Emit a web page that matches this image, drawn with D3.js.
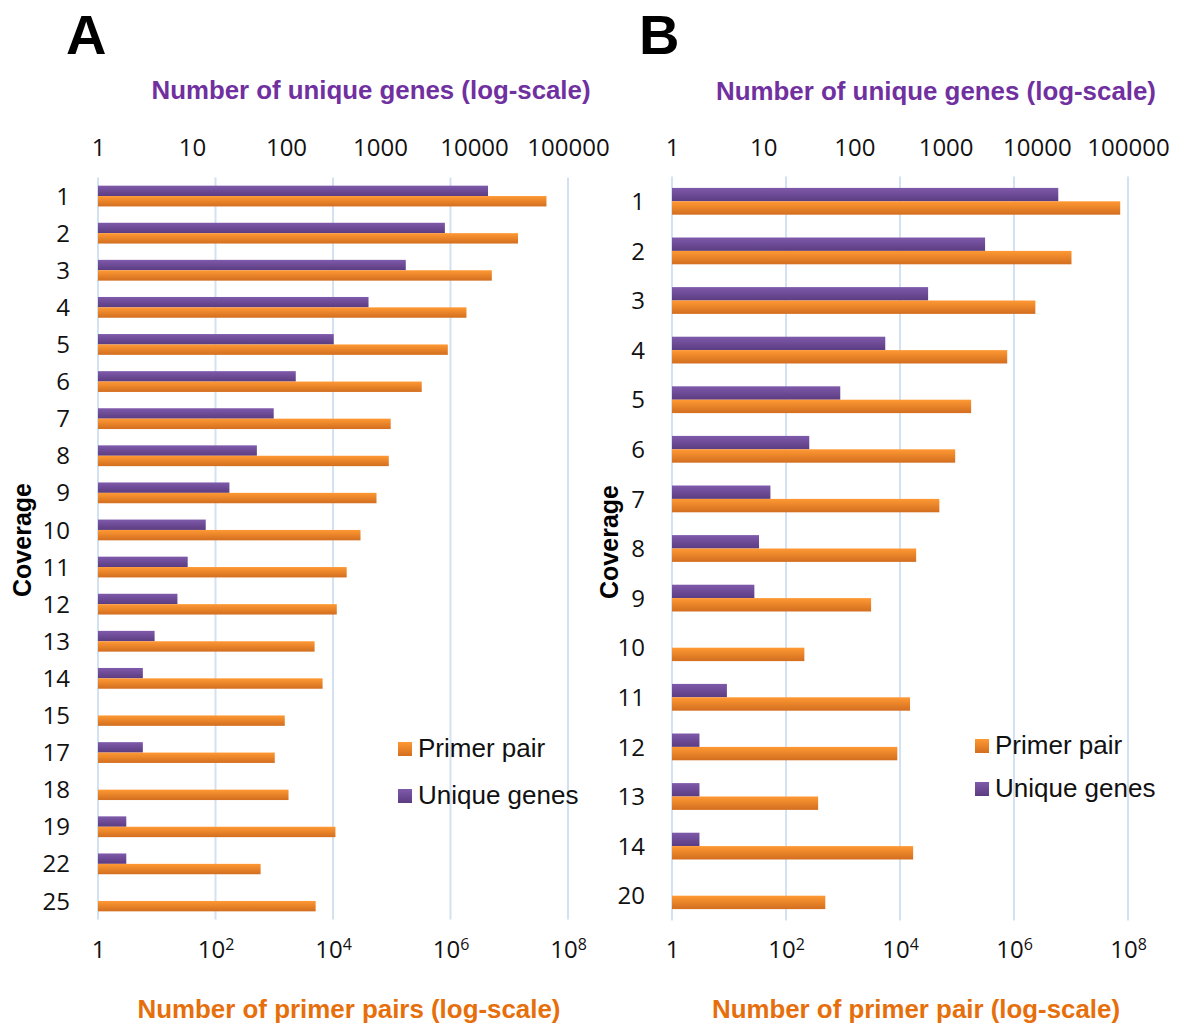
<!DOCTYPE html>
<html>
<head>
<meta charset="utf-8">
<script src="https://cdn.jsdelivr.net/npm/d3@7"></script>
<style>
  html, body { margin: 0; padding: 0; background: #ffffff; }
  svg { display: block; }
</style>
</head>
<body>
<svg id="chart" width="1178" height="1026"></svg>
<script>
// Panel A: coverage classes with primer-pair counts and unique-gene counts
const coverageA = ["1","2","3","4","5","6","7","8","9","10","11","12","13","14","15","17","18","19","22","25"];
const uniqueGenesA = [14100, 4900, 1880, 755, 322, 127, 74, 49, 25, 14, 9, 7, 4, 3, 1, 3, 1, 2, 2, 1];
const primerPairsA = [43000000, 14100000, 5050000, 1870000, 900000, 324000, 96000, 89000, 55000, 29400, 17100, 11600, 4860, 6650, 1510, 1020, 1750, 11000, 586, 5070];

// Panel B
const coverageB = ["1","2","3","4","5","6","7","8","9","10","11","12","13","14","20"];
const uniqueGenesB = [17200, 2710, 643, 218, 70, 32, 12, 9, 8, 1, 4, 2, 2, 2, 1];
const primerPairsB = [73000000, 10200000, 2370000, 760000, 177000, 93000, 49000, 19200, 3110, 210, 15000, 8970, 366, 17000, 489];

// Axis ticks
const geneTicks = [1, 10, 100, 1000, 10000, 100000];
const primerTicks = [1, 1e2, 1e4, 1e6, 1e8];
const legendLabels = ["Primer pair", "Unique genes"];

const svg = d3.select("#chart");

// Vertical bar gradients (Office-style bevelled fills)
const defs = svg.append("defs");
function gradient(id, top, bottom) {
  const g = defs.append("linearGradient").attr("id", id)
    .attr("x1", 0).attr("y1", 0).attr("x2", 0).attr("y2", 1);
  g.append("stop").attr("offset", "0%").attr("stop-color", top);
  g.append("stop").attr("offset", "100%").attr("stop-color", bottom);
}
gradient("gradGenes", "#7F5AAB", "#5B3C80");
gradient("gradPrimers", "#FF9934", "#D26E1F");

const TICK_FONT = "'Open Sans', 'Noto Sans', sans-serif";
const TITLE_FONT = "'Liberation Sans', Arial, sans-serif";
const PURPLE = "#7030A0";
const ORANGE = "#E66F0C";

function drawPanel(p) {
  const xGenes = d3.scaleLog().domain([1, 1e5]).range([p.x0, p.x1]);
  const xPrimers = d3.scaleLog().domain([1, 1e8]).range([p.x0, p.x1]);

  const rows = d3.scaleBand().domain(p.coverage).range([p.y0, p.y1])
    .paddingInner(p.gap).paddingOuter(p.gap / 2);
  const sub = d3.scaleBand().domain(["genes", "primers"]).range([0, rows.bandwidth()]);

  const g = svg.append("g");

  // vertical gridlines at the primer-pair decades
  g.append("g").selectAll("line").data(primerTicks).join("line")
    .attr("x1", d => xPrimers(d)).attr("x2", d => xPrimers(d))
    .attr("y1", p.y0).attr("y2", p.y1)
    .attr("stroke", "#D3E2F2").attr("stroke-width", 2);

  // bars
  const rowsData = p.coverage.map((c, i) => ({ c, genes: p.genes[i], primers: p.primers[i] }));
  const rowG = g.append("g").selectAll("g").data(rowsData).join("g")
    .attr("transform", d => `translate(0,${rows(d.c)})`);
  rowG.append("rect")
    .attr("x", xGenes(1)).attr("y", sub("genes"))
    .attr("width", d => xGenes(d.genes) - xGenes(1))
    .attr("height", sub.bandwidth())
    .attr("fill", "url(#gradGenes)");
  rowG.append("rect")
    .attr("x", xPrimers(1)).attr("y", sub("primers"))
    .attr("width", d => xPrimers(d.primers) - xPrimers(1))
    .attr("height", sub.bandwidth())
    .attr("fill", "url(#gradPrimers)");

  // top axis: unique genes
  const topAxis = g.append("g").attr("transform", `translate(0,${p.topTickY})`)
    .call(d3.axisTop(xGenes).tickValues(geneTicks).tickFormat(d3.format("d")).tickSize(0).tickPadding(0));
  topAxis.select(".domain").remove();
  topAxis.selectAll("text")
    .attr("y", 0).attr("dy", null)
    .style("font-family", TICK_FONT).style("font-size", "24px").attr("fill", "#111");

  // bottom axis: primer pairs, powers of ten with superscripts
  const bottomAxis = g.append("g").attr("transform", `translate(0,${p.bottomTickY})`)
    .call(d3.axisBottom(xPrimers).tickValues(primerTicks).tickSize(0).tickPadding(0));
  bottomAxis.select(".domain").remove();
  bottomAxis.selectAll("text")
    .attr("y", 0).attr("dy", null)
    .style("font-family", TICK_FONT).style("font-size", "24px").attr("fill", "#111")
    .each(function (d) {
      const t = d3.select(this).text("");
      if (d === 1) { t.text("1"); return; }
      t.append("tspan").text("10");
      t.append("tspan").text(Math.round(Math.log10(d)))
        .attr("dy", -8).style("font-size", "16px");
    });

  // category axis
  const leftAxis = g.append("g").attr("transform", `translate(${p.labelX},0)`)
    .call(d3.axisLeft(rows).tickSize(0).tickPadding(0));
  leftAxis.select(".domain").remove();
  leftAxis.selectAll("text")
    .attr("x", 0).attr("dy", "0.36em")
    .style("font-family", TICK_FONT).style("font-size", "24px").attr("fill", "#111");

  // axis titles
  g.append("text").attr("x", p.topTitleX).attr("y", p.topTitleY)
    .attr("text-anchor", "middle").attr("fill", PURPLE)
    .style("font-family", TITLE_FONT).style("font-weight", "bold").style("font-size", "25px")
    .attr("textLength", p.topTitleLen).attr("lengthAdjust", "spacingAndGlyphs")
    .text("Number of unique genes (log-scale)");
  g.append("text").attr("x", p.bottomTitleX).attr("y", p.bottomTitleY)
    .attr("text-anchor", "middle").attr("fill", ORANGE)
    .style("font-family", TITLE_FONT).style("font-weight", "bold").style("font-size", "25px")
    .attr("textLength", p.bottomTitleLen).attr("lengthAdjust", "spacingAndGlyphs")
    .text(p.bottomTitle);
  g.append("text")
    .attr("transform", `translate(${p.coverageX},${p.coverageY}) rotate(-90)`)
    .attr("text-anchor", "middle").attr("fill", "#000")
    .style("font-family", TITLE_FONT).style("font-weight", "bold").style("font-size", "25px")
    .text("Coverage");

  // panel letter
  g.append("text").attr("x", p.letterX).attr("y", 54)
    .attr("fill", "#000")
    .style("font-family", TITLE_FONT).style("font-weight", "bold").style("font-size", "56px")
    .text(p.letter);

  // legend
  const fills = ["url(#gradPrimers)", "url(#gradGenes)"];
  const leg = g.append("g").selectAll("g").data(legendLabels).join("g")
    .attr("transform", (d, i) => `translate(${p.legendX},${p.legendY + i * p.legendStep})`);
  leg.append("rect").attr("x", 0).attr("y", -14).attr("width", 14).attr("height", 14)
    .attr("fill", (d, i) => fills[i]);
  leg.append("text").attr("x", 20).attr("y", 1)
    .style("font-family", TITLE_FONT).style("font-size", "26px").attr("fill", "#111")
    .text(d => d);
}

drawPanel({
  letter: "A", letterX: 66,
  coverage: coverageA, genes: uniqueGenesA, primers: primerPairsA,
  x0: 98, x1: 568, y0: 177.5, y1: 919.5, gap: 0.44,
  topTickY: 156, bottomTickY: 958, labelX: 70,
  topTitleX: 371, topTitleY: 99, topTitleLen: 439,
  bottomTitle: "Number of primer pairs (log-scale)",
  bottomTitleX: 349, bottomTitleY: 1018, bottomTitleLen: 423,
  coverageX: 31, coverageY: 540,
  legendX: 398, legendY: 756, legendStep: 47
});

drawPanel({
  letter: "B", letterX: 639,
  coverage: coverageB, genes: uniqueGenesB, primers: primerPairsB,
  x0: 672, x1: 1128, y0: 176.5, y1: 920.5, gap: 0.46,
  topTickY: 156, bottomTickY: 958, labelX: 645,
  topTitleX: 936, topTitleY: 100, topTitleLen: 440,
  bottomTitle: "Number of primer pair (log-scale)",
  bottomTitleX: 916, bottomTitleY: 1018, bottomTitleLen: 408,
  coverageX: 618, coverageY: 542,
  legendX: 975, legendY: 753, legendStep: 43
});
</script>
</body>
</html>
